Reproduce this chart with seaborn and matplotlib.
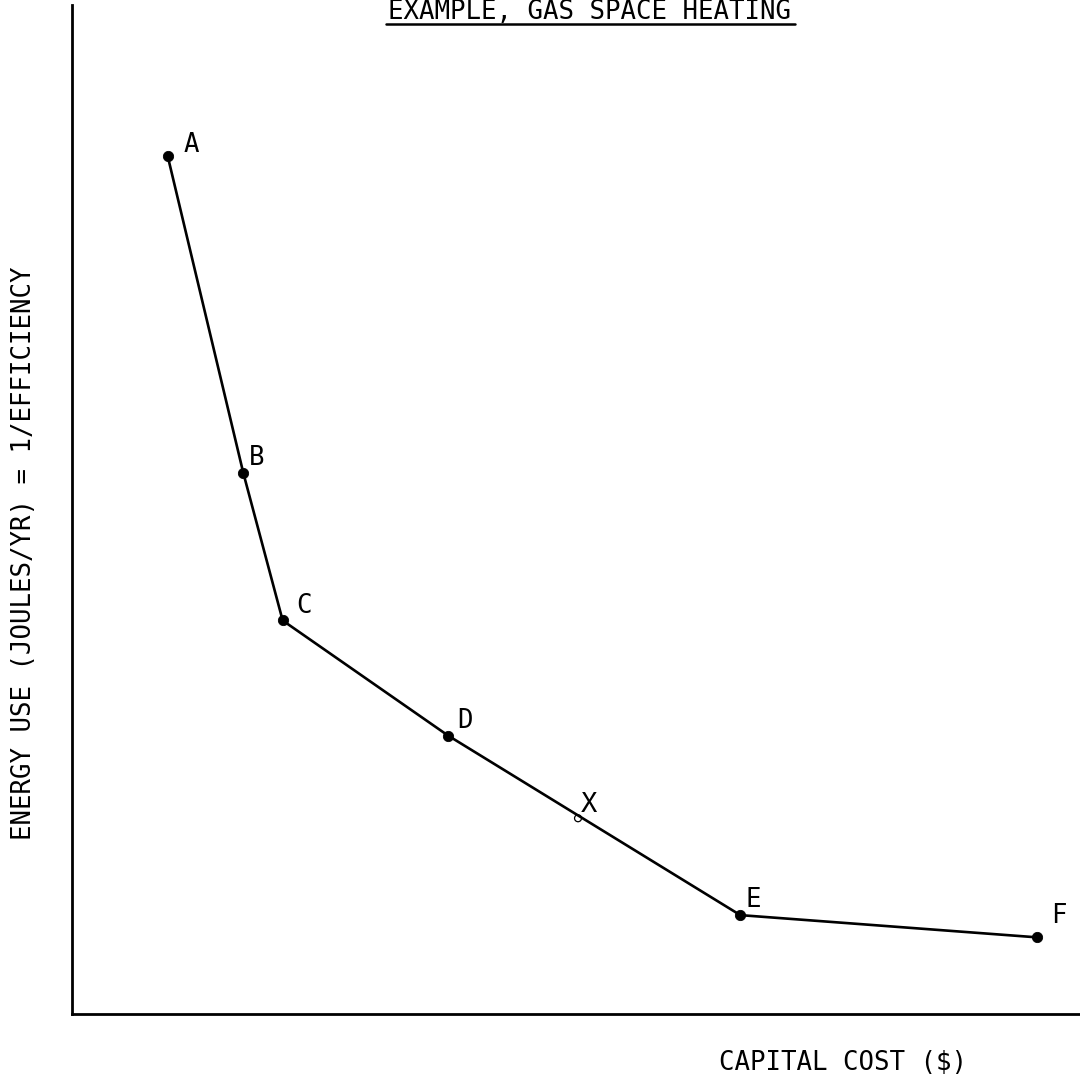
import matplotlib
matplotlib.use("Agg")
import matplotlib.pyplot as plt
from matplotlib.lines import Line2D
import seaborn as sns
import pandas as pd

# ---- data (arbitrary units) ----
labels = ["A", "B", "C", "D", "E", "F"]
capital_cost = [9.5, 17.0, 20.9, 37.3, 66.3, 95.7]
energy_use = [85.0, 53.6, 39.0, 27.6, 9.8, 7.6]
x_label_point = ["X"]
x_point_cost = [50.2]
x_point_energy = [19.4]

df = pd.DataFrame({"cost": capital_cost, "energy": energy_use, "label": labels})

sns.set_theme(style="white")
FAM = ["DejaVu Sans Mono", "DejaVu Sans"]
plt.rcParams["font.family"] = FAM
FS = 18.5

W, H = 1080, 1084
fig = plt.figure(figsize=(W / 100, H / 100), dpi=100)
ax = fig.add_axes([72 / W, (H - 1014) / H, (W - 72) / W, (1014 - 5) / H])

sns.lineplot(data=df, x="cost", y="energy", ax=ax, color="black", lw=1.9,
             sort=False, estimator=None, legend=False)
sns.scatterplot(data=df, x="cost", y="energy", ax=ax, color="black", s=55,
                edgecolor="black", zorder=3, legend=False)

# label offsets in pixels (label centre relative to the point)
offsets = {"A": (24, 11), "B": (13, 15), "C": (21, 14), "D": (17, 15),
           "E": (13, 15), "F": (22, 21)}
for lab, x, y in zip(labels, capital_cost, energy_use):
    ax.annotate(lab, (x, y), xytext=offsets[lab], textcoords="offset pixels",
                ha="center", va="center", fontsize=FS, color="black", family=FAM)
for lab, x, y in zip(x_label_point, x_point_cost, x_point_energy):
    ax.scatter([x], [y], s=25, facecolor="none", edgecolor="black", lw=0.9, zorder=3)
    ax.annotate(lab, (x, y), xytext=(11, 13), textcoords="offset pixels",
                ha="center", va="center", fontsize=FS + 1, color="black", family=FAM)

ax.set_xlim(0, 100)
ax.set_ylim(0, 100)
ax.set_xticks([])
ax.set_yticks([])
ax.set_xlabel("")
ax.set_ylabel("")
for s in ["top", "right"]:
    ax.spines[s].set_visible(False)
for s in ["left", "bottom"]:
    ax.spines[s].set_color("black")
    ax.spines[s].set_linewidth(2.0)

# title with underline
fig.text(590 / W, 1 - 19 / H, "EXAMPLE, GAS SPACE HEATING", ha="center",
         va="baseline", fontsize=FS, family=FAM, color="black")
fig.add_artist(Line2D([386 / W, 795 / W], [1 - 24 / H, 1 - 24 / H],
                      transform=fig.transFigure, color="black", lw=1.8))

fig.text(843 / W, 1 - 1063 / H, "CAPITAL COST ($)", ha="center", va="center",
         fontsize=FS, family=FAM, color="black")
fig.text(24 / W, 1 - 553 / H, "ENERGY USE (JOULES/YR) = 1/EFFICIENCY",
         ha="center", va="center", rotation=90, fontsize=FS, family=FAM,
         color="black")

fig.savefig("out.png", dpi=100, facecolor="white")
